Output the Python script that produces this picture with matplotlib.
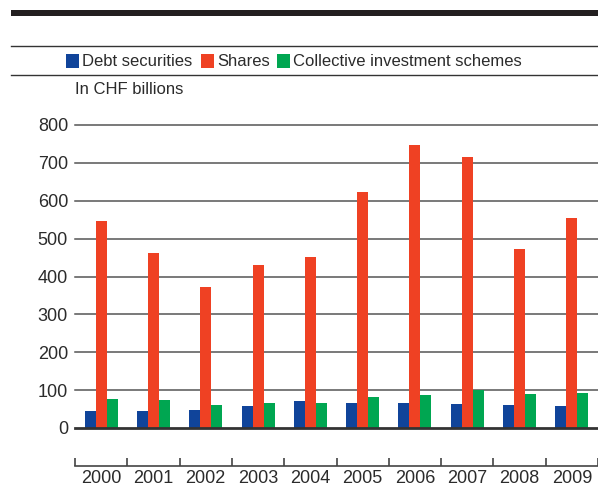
import matplotlib
matplotlib.use("Agg")
import matplotlib.pyplot as plt
import numpy as np
from matplotlib.patches import Rectangle
from matplotlib.lines import Line2D

plt.rcParams['font.family'] = ['Liberation Sans', 'DejaVu Sans']

# données (en milliards de CHF)
years = ['2000', '2001', '2002', '2003', '2004', '2005', '2006', '2007', '2008', '2009']
debt = [45, 45, 48, 59, 72, 67, 67, 64, 61, 59]
shares = [547, 462, 372, 430, 452, 623, 747, 716, 473, 555]
cis = [77, 74, 61, 67, 67, 83, 88, 100, 90, 93]
series_names = ['Debt securities', 'Shares', 'Collective investment schemes']
colors = ['#10449A', '#EF4123', '#00A651']
yticks = [0, 100, 200, 300, 400, 500, 600, 700, 800]

W, H = 598, 488
txt = '#2b2b2b'

fig = plt.figure(figsize=(W / 100, H / 100), dpi=100)
fig.patch.set_facecolor('white')

def fx(px):
    return px / W

def fy(py):
    return 1 - py / H

# barre noire épaisse en haut + filets fins autour de la légende
fig.add_artist(Rectangle((fx(11), fy(16)), fx(598) - fx(11), fy(10) - fy(16),
                         transform=fig.transFigure, color='#231f20', lw=0))
for yy in (46, 75):
    fig.add_artist(Line2D([fx(11), 1], [fy(yy), fy(yy)], transform=fig.transFigure,
                          color='#333333', lw=1.0))

# légende manuelle
leg_x = [66, 201, 277]
for x0, name, c in zip(leg_x, series_names, colors):
    fig.add_artist(Rectangle((fx(x0), fy(68)), fx(13), 14 / H,
                             transform=fig.transFigure, color=c, lw=0))
    fig.text(fx(x0 + 16), fy(61), name, fontsize=12, color=txt, va='center', ha='left')

fig.text(fx(75), fy(89), 'In CHF billions', fontsize=12, color=txt, va='center', ha='left')

# axes principaux
ax = fig.add_axes([fx(75), fy(428), fx(598) - fx(75), (428 - 125) / H])
x = np.arange(len(years))
bw = 0.21
for i, (vals, c) in enumerate(zip([debt, shares, cis], colors)):
    ax.bar(x + (i - 1) * bw, vals, width=bw, color=c, lw=0, zorder=3)

ax.set_xlim(-0.5, len(years) - 0.5)
ax.set_ylim(0, 800)
ax.set_yticks(yticks)
for v in yticks[1:]:
    ax.axhline(v, color='#555555', lw=1.1, zorder=1, clip_on=False)
ax.axhline(0, color='#333333', lw=2.0, zorder=4, clip_on=False)

for s in ['top', 'right', 'left']:
    ax.spines[s].set_visible(False)
ax.spines['bottom'].set_position(('outward', 27.5))
ax.spines['bottom'].set_color('#444444')
ax.spines['bottom'].set_linewidth(1.2)

ax.tick_params(axis='y', length=0, labelsize=13, labelcolor=txt, pad=5)
ax.set_xticks(x)
ax.set_xticklabels(years)
ax.set_xticks(np.arange(-0.5, len(years)), minor=True)
ax.tick_params(axis='x', which='major', length=0, labelsize=13, labelcolor=txt, pad=3)
ax.tick_params(axis='x', which='minor', direction='in', length=6, width=1.2, color='#444444')

fig.savefig('out.png', dpi=100)
